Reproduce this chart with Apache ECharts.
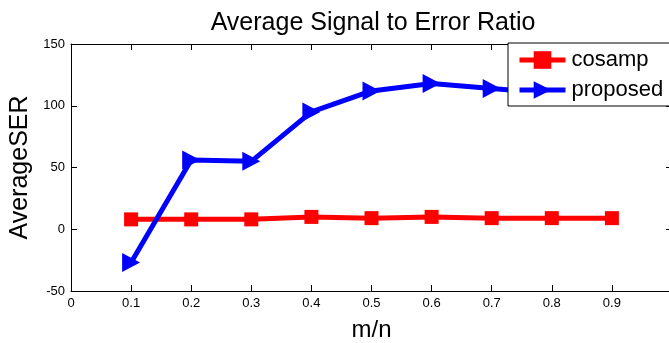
<!DOCTYPE html>
<html><head><meta charset="utf-8">
<script src="https://cdn.jsdelivr.net/npm/echarts@6/dist/echarts.min.js"></script>
<style>html,body{margin:0;padding:0;background:#fff}#c{width:669px;height:343px}</style>
</head><body><div id="c"></div>
<script>
const mn = [0.1, 0.2, 0.3, 0.4, 0.5, 0.6, 0.7, 0.8, 0.9];
const cosamp = [8, 8, 8, 10, 9, 10, 9, 9, 9];
const proposed = [-27, 56, 55, 95, 112, 118, 114, 110, 108];
const seriesNames = ['cosamp', 'proposed'];
const font = 'Liberation Sans, Arial, sans-serif';
const chart = echarts.init(document.getElementById('c'));
const tickCommon = {show: true, inside: true, length: 6, lineStyle: {color: '#000', width: 1}};
chart.setOption({
  animation: false,
  title: {text: 'Average Signal to Error Ratio', left: 368, top: 6, textAlign: 'center',
    textStyle: {fontFamily: font, fontSize: 25, fontWeight: 'normal', color: '#000'}},
  grid: {left: 71, top: 44, width: 601, height: 247, outerBoundsMode: 'none', containLabel: false},
  legend: {
    data: seriesNames, orient: 'vertical', left: 508, top: 43, z: 10,
    backgroundColor: '#fff', borderColor: '#000', borderWidth: 1,
    padding: [6, 12, 5, 9], itemGap: 8, itemWidth: 46, itemHeight: 22,
    lineStyle: {width: 5},
    textStyle: {fontFamily: font, fontSize: 22, color: '#000', padding: [0, 0, 0, 1]}
  },
  xAxis: [
    {type: 'value', min: 0, max: 1, interval: 0.1, name: 'm/n', nameLocation: 'middle', nameGap: 27,
      nameTextStyle: {fontFamily: font, fontSize: 24, color: '#000'},
      axisLine: {show: true, onZero: false, lineStyle: {color: '#000', width: 1}},
      axisTick: tickCommon, splitLine: {show: false},
      axisLabel: {fontFamily: font, fontSize: 13, color: '#000', margin: 6}},
    {type: 'value', position: 'top', min: 0, max: 1, interval: 0.1,
      axisLine: {show: true, onZero: false, lineStyle: {color: '#000', width: 1}},
      axisTick: tickCommon, axisLabel: {show: false}, splitLine: {show: false}}
  ],
  yAxis: [
    {type: 'value', min: -50, max: 150, interval: 50, name: 'AverageSER', nameLocation: 'middle', nameGap: 38,
      nameTextStyle: {fontFamily: font, fontSize: 25, color: '#000'},
      axisLine: {show: true, onZero: false, lineStyle: {color: '#000', width: 1}},
      axisTick: tickCommon, splitLine: {show: false},
      axisLabel: {fontFamily: font, fontSize: 13, color: '#000', margin: 6}},
    {type: 'value', position: 'right', min: -50, max: 150, interval: 50,
      axisLine: {show: true, onZero: false, lineStyle: {color: '#000', width: 1}},
      axisTick: tickCommon, axisLabel: {show: false}, splitLine: {show: false}}
  ],
  series: [
    {name: seriesNames[0], type: 'line', data: mn.map((x, i) => [x, cosamp[i]]),
      color: '#ff0000', lineStyle: {width: 5, color: '#ff0000'},
      symbol: 'rect', symbolSize: 14, itemStyle: {color: '#ff0000'}},
    {name: seriesNames[1], type: 'line', data: mn.map((x, i) => [x, proposed[i]]),
      color: '#0000ff', lineStyle: {width: 5, color: '#0000ff'},
      symbol: 'triangle', symbolSize: [19, 18], symbolRotate: -90, itemStyle: {color: '#0000ff'}}
  ]
});
</script></body></html>
